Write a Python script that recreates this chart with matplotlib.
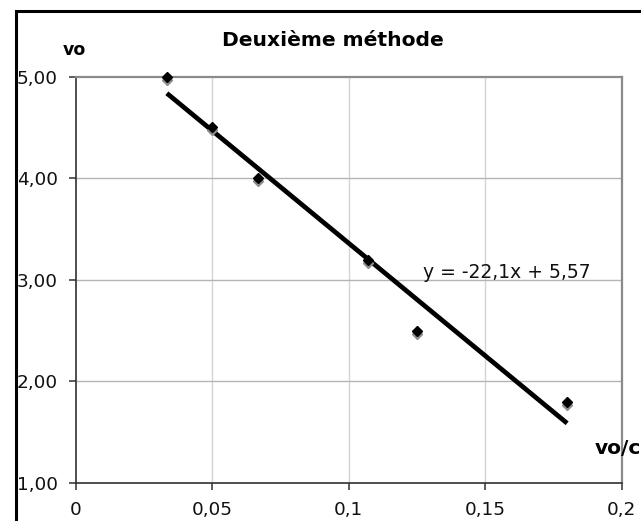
import numpy as np
import matplotlib
matplotlib.use("Agg")
import matplotlib.pyplot as plt
from matplotlib.patches import Rectangle
from matplotlib.transforms import offset_copy

# Data
x_vals = [0.0333, 0.05, 0.0667, 0.107, 0.125, 0.18]
y_vals = [5.00, 4.50, 4.00, 3.20, 2.50, 1.80]
x_ticks = [0, 0.05, 0.1, 0.15, 0.2]
x_tick_labels = ["0", "0,05", "0,1", "0,15", "0,2"]
y_ticks = [1, 2, 3, 4, 5]
y_tick_labels = ["1,00", "2,00", "3,00", "4,00", "5,00"]
title = "Deuxième méthode"
y_label = "vo"
x_label = "vo/c"

plt.rcParams['font.family'] = ['DejaVu Sans']

W, H = 641, 521
fig = plt.figure(figsize=(W / 100, H / 100), dpi=100)
fig.patch.set_facecolor('white')

left, right, top, bottom = 76, 621.7, 76.7, 483
ax = fig.add_axes([left / W, 1 - bottom / H, (right - left) / W, (bottom - top) / H])
ax.set_xlim(0, 0.2)
ax.set_ylim(1, 5)

# grid
for xv in x_ticks[1:-1]:
    ax.axvline(xv, color='#d4d4d4', lw=1.0, zorder=0)
for yv in y_ticks[1:-1]:
    ax.axhline(yv, color='#b4b4b4', lw=1.0, zorder=0)

for s in ['top', 'right']:
    ax.spines[s].set_color('#8a8a8a')
    ax.spines[s].set_linewidth(1.6)
for s in ['left', 'bottom']:
    ax.spines[s].set_color('#303030')
    ax.spines[s].set_linewidth(1.2)

ax.set_xticks(x_ticks)
ax.set_xticklabels(x_tick_labels)
ax.set_yticks(y_ticks)
ax.set_yticklabels(y_tick_labels)
ax.tick_params(axis='both', direction='out', length=5, width=1.1, color='#303030',
               labelsize=13.3, labelcolor='#111111')
ax.tick_params(axis='x', pad=8)
ax.tick_params(axis='y', pad=8)

# trendline from least squares fit
slope, intercept = np.polyfit(x_vals, y_vals, 1)
xs = np.array([min(x_vals), max(x_vals)])
ax.plot(xs, slope * xs + intercept, color='black', lw=3.4, solid_capstyle='butt', zorder=3)

# markers with shadow
shadow = offset_copy(ax.transData, fig=fig, x=0, y=-3, units='dots')
ax.plot(x_vals, y_vals, linestyle='none', marker='D', ms=5.5, color='#8c8c8c',
        transform=shadow, zorder=4, clip_on=False)
ax.plot(x_vals, y_vals, linestyle='none', marker='D', ms=5.5, color='black',
        zorder=5, clip_on=False)

eq = "y = {:.1f}x + {:.2f}".format(slope, intercept).replace('.', ',')
fig.text(423 / W, 1 - 273 / H, eq, ha='left', va='center', fontsize=13.5, color='#111111')

fig.text(333 / W, 1 - 40 / H, title, ha='center', va='center', fontsize=14.6, fontweight='bold')
fig.text(74 / W, 1 - 50 / H, y_label, ha='center', va='center', fontsize=12.5, fontweight='bold')
fig.text(595 / W, 1 - 449 / H, x_label, ha='left', va='center', fontsize=14.5, fontweight='bold')

# chart border (partially cropped)
fig.patches.append(Rectangle((15.5 / W, -0.5), 2.0, 1.5 - 11.0 / H, transform=fig.transFigure,
                             fill=False, edgecolor='black', lw=2.2, zorder=10))

fig.savefig('out.png', dpi=100)
